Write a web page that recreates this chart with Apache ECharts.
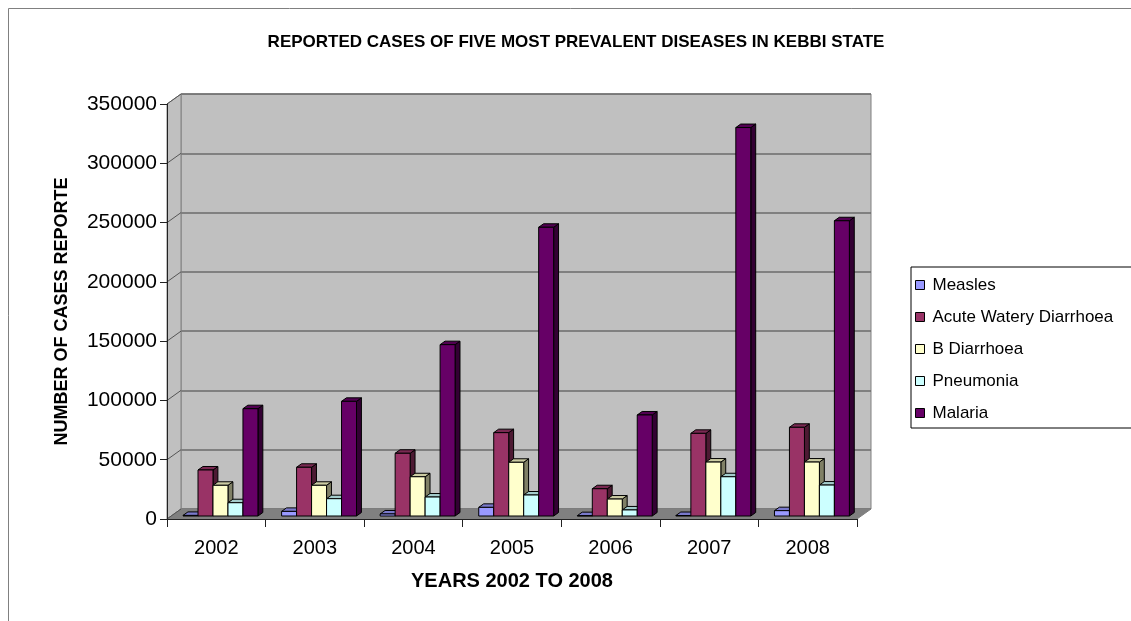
<!DOCTYPE html>
<html>
<head>
<meta charset="utf-8">
<script src="https://cdn.jsdelivr.net/npm/echarts@6/dist/echarts.min.js"></script>
<style>
html, body { margin: 0; padding: 0; background: #fff; }
#chart { width: 1131px; height: 621px; }
</style>
</head>
<body>
<div id="chart"></div>
<script>
// Reported cases per year, Kebbi State
const years = ['2002', '2003', '2004', '2005', '2006', '2007', '2008'];
const measles = [500, 3900, 1700, 7300, 300, 400, 4500];
const acuteWateryDiarrhoea = [38800, 41100, 52900, 70300, 23000, 69700, 74800];
const bDiarrhoea = [25900, 25900, 33100, 45300, 14300, 45500, 45500];
const pneumonia = [11200, 14600, 16000, 17700, 5100, 33100, 26100];
const malaria = [90500, 96700, 144500, 243500, 85200, 327600, 249000];

const seriesNames = ['Measles', 'Acute Watery Diarrhoea', 'B Diarrhoea', 'Pneumonia', 'Malaria'];
const seriesValues = [measles, acuteWateryDiarrhoea, bDiarrhoea, pneumonia, malaria];
const seriesColors = ['#9999FF', '#993366', '#FFFFCC', '#CCFFFF', '#660066'];

const yMax = 350000;
const yStep = 50000;

const FONT = '"Liberation Sans", Arial, sans-serif';
// front plane of the 3D box and its depth offset toward the back wall
const PLOT = { left: 167, top: 104, right: 274, bottom: 102 };
const DEPTH = { dx: 14, dy: 10 };
// bar slots inside a category band (fractions) and depth span of bars
const BAR = { start: 0.12, width: 0.152, front: 0.3, back: 0.65 };

function shade(hex, k) {
  const n = parseInt(hex.slice(1), 16);
  const r = Math.round(((n >> 16) & 255) * k);
  const g = Math.round(((n >> 8) & 255) * k);
  const b = Math.round((n & 255) * k);
  return 'rgb(' + r + ',' + g + ',' + b + ')';
}

function renderWalls(params, api) {
  const cs = params.coordSys;
  const x0 = cs.x, x1 = cs.x + cs.width;
  const yt = cs.y, yb = cs.y + cs.height;
  const dx = DEPTH.dx, dy = DEPTH.dy;
  const children = [
    { type: 'polygon', shape: { points: [[x0, yb], [x0, yt], [x0 + dx, yt - dy], [x0 + dx, yb - dy]] },
      style: { fill: '#C0C0C0', stroke: '#808080', lineWidth: 1 } },
    { type: 'polygon', shape: { points: [[x0, yb], [x1, yb], [x1 + dx, yb - dy], [x0 + dx, yb - dy]] },
      style: { fill: '#808080', stroke: '#808080', lineWidth: 1 } }
  ];
  for (let v = 0; v <= yMax; v += yStep) {
    const y = api.coord([0, v])[1];
    children.push({ type: 'line', shape: { x1: x0, y1: y, x2: x0 + dx, y2: y - dy },
      style: { stroke: '#555', lineWidth: 1 } });
  }
  return { type: 'group', children: children };
}

function makeBarRenderer(slot, color) {
  const topColor = shade(color, 0.8);
  const sideColor = shade(color, 0.5);
  return function (params, api) {
    const cat = api.value(0);
    const val = api.value(1);
    const base = api.coord([cat, 0]);
    const head = api.coord([cat, val]);
    const band = api.size([1, 0])[0];
    const w = band * BAR.width;
    const fx = DEPTH.dx * BAR.front, fy = DEPTH.dy * BAR.front;
    const ddx = DEPTH.dx * (BAR.back - BAR.front), ddy = DEPTH.dy * (BAR.back - BAR.front);
    const xl = base[0] - band / 2 + band * (BAR.start + slot * BAR.width) + fx;
    const xr = xl + w;
    const yb = base[1] - fy, yt = head[1] - fy;
    return {
      type: 'group',
      children: [
        { type: 'polygon', shape: { points: [[xr, yt], [xr + ddx, yt - ddy], [xr + ddx, yb - ddy], [xr, yb]] },
          style: { fill: sideColor, stroke: '#000', lineWidth: 1 } },
        { type: 'polygon', shape: { points: [[xl, yt], [xr, yt], [xr + ddx, yt - ddy], [xl + ddx, yt - ddy]] },
          style: { fill: topColor, stroke: '#000', lineWidth: 1 } },
        { type: 'rect', shape: { x: xl, y: yt, width: w, height: yb - yt },
          style: { fill: color, stroke: '#000', lineWidth: 1 } }
      ]
    };
  };
}

const barSeries = seriesNames.map(function (name, i) {
  return {
    name: name,
    type: 'custom',
    xAxisIndex: 0,
    yAxisIndex: 0,
    z: 3,
    itemStyle: { color: seriesColors[i] },
    renderItem: makeBarRenderer(i, seriesColors[i]),
    encode: { x: 0, y: 1 },
    data: years.map(function (y, k) { return [k, seriesValues[i][k]]; })
  };
});

const chart = echarts.init(document.getElementById('chart'), null, { renderer: 'canvas' });
chart.setOption({
  animation: false,
  backgroundColor: '#fff',
  textStyle: { fontFamily: FONT },
  graphic: [
    { type: 'rect', z: 0, shape: { x: 8.5, y: 8.5, width: 1200, height: 700 },
      style: { fill: 'none', stroke: '#808080', lineWidth: 1 } },
    { type: 'text', x: 576, y: 42, z: 5,
      style: { text: 'REPORTED CASES OF FIVE MOST PREVALENT DISEASES IN KEBBI STATE',
        font: 'bold 17px ' + FONT, fill: '#000', align: 'center', verticalAlign: 'middle' } }
  ],
  grid: [
    { left: PLOT.left, top: PLOT.top, right: PLOT.right, bottom: PLOT.bottom, show: false },
    { left: PLOT.left + DEPTH.dx, top: PLOT.top - DEPTH.dy, right: PLOT.right - DEPTH.dx,
      bottom: PLOT.bottom + DEPTH.dy, show: true, backgroundColor: '#C0C0C0',
      borderColor: '#808080', borderWidth: 1 }
  ],
  legend: {
    orient: 'vertical', left: 911, top: 267,
    data: seriesNames, icon: 'rect', itemWidth: 9, itemHeight: 9, itemGap: 14,
    itemStyle: { borderColor: '#000', borderWidth: 1 },
    textStyle: { fontSize: 17, lineHeight: 18, fontFamily: FONT, color: '#000', padding: [0, 0, 0, 3] },
    backgroundColor: '#fff', borderColor: '#000', borderWidth: 1,
    padding: [9, 30, 6, 4], selectedMode: false
  },
  xAxis: [
    { type: 'category', gridIndex: 0, data: years, z: 4,
      axisLine: { show: true, lineStyle: { color: '#222', width: 1 } },
      axisTick: { show: true, length: 8, interval: 0, alignWithLabel: false, lineStyle: { color: '#222' } },
      axisLabel: { fontSize: 20, color: '#000', margin: 19, fontFamily: FONT },
      splitLine: { show: false },
      name: 'YEARS 2002 TO 2008', nameLocation: 'middle', nameGap: 52,
      nameTextStyle: { fontSize: 20, fontWeight: 'bold', color: '#000', fontFamily: FONT } },
    { type: 'category', gridIndex: 1, data: years, show: false }
  ],
  yAxis: [
    { type: 'value', gridIndex: 0, min: 0, max: yMax, interval: yStep, z: 4,
      axisLine: { show: true, lineStyle: { color: '#222', width: 1 } },
      axisTick: { show: true, length: 7, lineStyle: { color: '#222' } },
      axisLabel: { fontSize: 21, color: '#000', margin: 10, fontFamily: FONT,
        formatter: function (v) { return String(v); } },
      splitLine: { show: false },
      name: 'NUMBER OF CASES REPORTE', nameLocation: 'middle', nameRotate: 90, nameGap: 96,
      nameTextStyle: { fontSize: 18, fontWeight: 'bold', color: '#000', fontFamily: FONT } },
    { type: 'value', gridIndex: 1, min: 0, max: yMax, interval: yStep,
      axisLine: { show: false }, axisTick: { show: false }, axisLabel: { show: false },
      splitLine: { show: true, lineStyle: { color: '#6b6b6b', width: 1.5 } } }
  ],
  series: [
    { type: 'custom', name: '_walls', xAxisIndex: 0, yAxisIndex: 0, z: 1, silent: true,
      renderItem: renderWalls, data: [[0, 0]], encode: { x: 0, y: 1 } }
  ].concat(barSeries)
});
</script>
</body>
</html>
